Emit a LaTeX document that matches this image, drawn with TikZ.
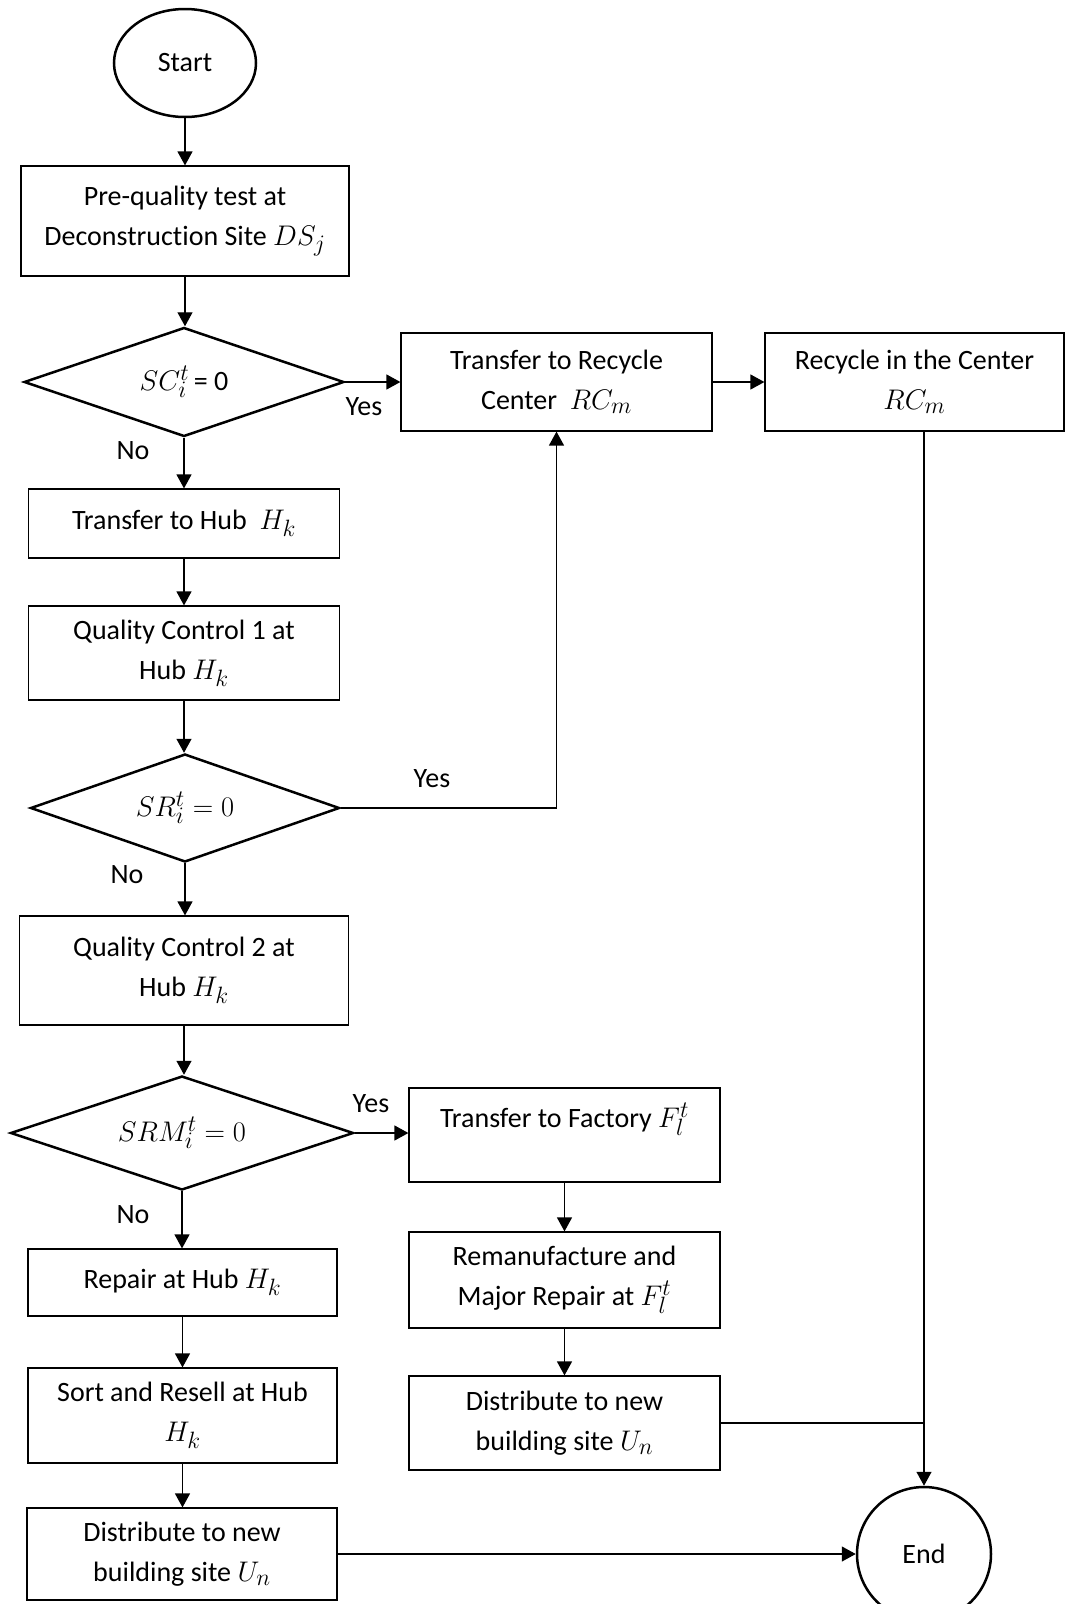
\documentclass[tikz,border=0pt]{standalone}
\usepackage{graphicx}
\usepackage{fontspec}
\setmainfont{Carlito}[Ligatures=NoCommon]
\usetikzlibrary{shapes.geometric,arrows.meta}
\newcommand{\mth}[1]{\scalebox{1.14}{$#1$}}
\begin{document}
\begin{tikzpicture}[x=1pt,y=-1pt,
  every node/.style={font=\fontsize{28}{40}\selectfont},
  box/.style={draw,line width=1.2pt,rectangle,align=center,inner sep=0pt},
  dec/.style={draw,line width=2.5pt,diamond,shape aspect=3,inner sep=0pt,align=center},
  term/.style={draw,line width=2.5pt,ellipse,inner sep=0pt},
  arr/.style={line width=1.3pt,-{Triangle[length=14pt,width=15pt]}},
  ln/.style={line width=1.3pt},
  lbl/.style={inner sep=0pt}
]
\useasboundingbox (0,0) rectangle (1065,1604);

\node[term,minimum width=142pt,minimum height=108pt] (start) at (185,63) {Start};
\node[box,minimum width=328pt,minimum height=110pt] (pre) at (185,221) {Pre-quality test at\\Deconstruction Site \mth{DS_j}};
\node[dec,minimum width=320pt,minimum height=109pt] (d1) at (184,382) {\mth{SC_i^t}\,= 0};
\node[box,minimum width=311pt,minimum height=98pt] (rc) at (556.5,382) {Transfer to Recycle\\Center~ \mth{RC_m}};
\node[box,minimum width=299pt,minimum height=98pt] (rcc) at (914.5,382) {Recycle in the Center\\\mth{RC_m}};
\node[box,minimum width=311pt,minimum height=69pt] (hub) at (184,523.5) {Transfer to Hub~ \mth{H_k}};
\node[box,minimum width=311pt,minimum height=94pt] (qc1) at (184,653) {Quality Control 1 at\\Hub \mth{H_k}};
\node[dec,minimum width=309pt,minimum height=108pt] (d2) at (185,808) {\mth{SR_i^t = 0}};
\node[box,minimum width=329pt,minimum height=109pt] (qc2) at (184,970.5) {Quality Control 2 at\\Hub \mth{H_k}};
\node[dec,minimum width=343pt,minimum height=114pt] (d3) at (182,1133) {\mth{SRM_i^t = 0}};
\node[box,minimum width=311pt,minimum height=94pt] (fac) at (564.5,1135) {Transfer to Factory \mth{F_l^t}\\\mbox{}};
\node[box,minimum width=311pt,minimum height=96pt] (rem) at (564.5,1280) {Remanufacture and\\Major Repair at \mth{F_l^t}};
\node[box,minimum width=311pt,minimum height=94pt] (disR) at (564.5,1423) {Distribute to new\\building site \mth{U_n}};
\node[box,minimum width=309pt,minimum height=67pt] (rep) at (182.5,1282.5) {Repair at Hub \mth{H_k}};
\node[box,minimum width=309pt,minimum height=95pt] (sort) at (182.5,1415.5) {Sort and Resell at Hub\\\mth{H_k}};
\node[box,minimum width=310pt,minimum height=92pt] (disL) at (182,1554) {Distribute to new\\building site \mth{U_n}};
\node[term,circle,minimum size=134pt] (end) at (924,1554) {End};

\node[lbl] (y1) at (364,407) {Yes};
\node[lbl] (n1) at (133,451) {No};
\node[lbl] (y2) at (432,779) {Yes};
\node[lbl] (n2) at (127,875) {No};
\node[lbl] (y3) at (371,1104) {Yes};
\node[lbl] (n3) at (133,1215) {No};

\draw[arr] (start.south) -- (start.south |- pre.north);
\draw[arr] (pre.south) -- (pre.south |- d1.north);
\draw[arr] (d1.east) -- (d1.east -| rc.west);
\draw[arr] (rc.east) -- (rc.east -| rcc.west);
\draw[arr] (d1.south) -- (d1.south |- hub.north);
\draw[arr] (hub.south) -- (hub.south |- qc1.north);
\draw[arr] (qc1.south) -- (qc1.south |- d2.north);
\draw[arr] (d2.east) -| (rc.south);
\draw[arr] (d2.south) -- (d2.south |- qc2.north);
\draw[arr] (qc2.south) -- (qc2.south |- d3.north);
\draw[arr] (d3.east) -- (d3.east -| fac.west);
\draw[arr] (d3.south) -- (d3.south |- rep.north);
\draw[arr] (fac.south) -- (rem.north);
\draw[arr] (rem.south) -- (disR.north);
\draw[arr] (rep.south) -- (rep.south |- sort.north);
\draw[arr] (sort.south) -- (sort.south |- disL.north);
\draw[arr] (disL.east) -- (end.west);
\draw[arr] (rcc.south -| end.north) -- (end.north);
\draw[ln] (disR.east) -- (disR.east -| end.north);
\end{tikzpicture}
\end{document}
